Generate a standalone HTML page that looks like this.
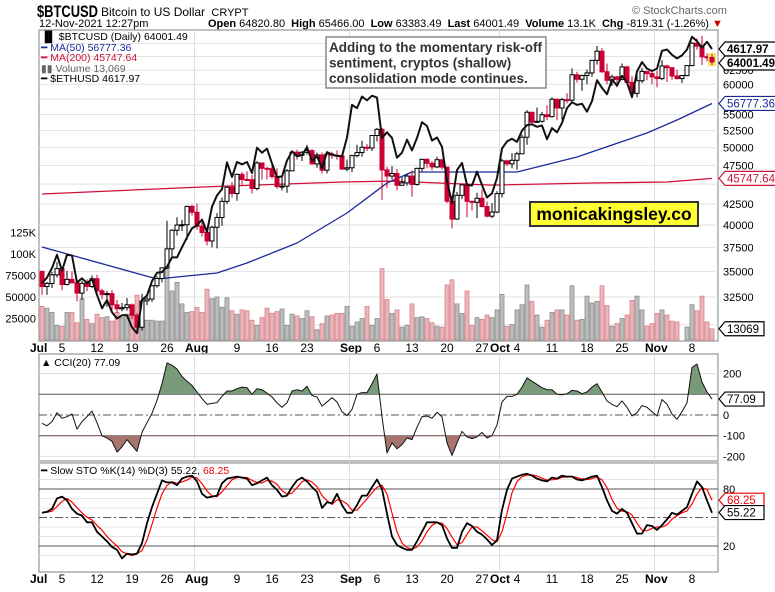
<!DOCTYPE html>
<html><head><meta charset="utf-8">
<style>
html,body{margin:0;padding:0;background:#fff;}
body{width:775px;height:587px;overflow:hidden;font-family:"Liberation Sans",sans-serif;}
svg text{font-family:"Liberation Sans",sans-serif;}
</style></head>
<body>
<svg id="chart" width="775" height="587" viewBox="0 0 775 587" xmlns="http://www.w3.org/2000/svg">
  <defs>
    <clipPath id="cMain"><rect x="39" y="30" width="680" height="311"/></clipPath>
    <clipPath id="cAbove"><rect x="39" y="354" width="680" height="40"/></clipPath>
    <clipPath id="cBelow"><rect x="39" y="435" width="680" height="30"/></clipPath>
  </defs>
  <g>
    <text x="37" y="17" font-size="17" font-weight="bold" textLength="61" lengthAdjust="spacingAndGlyphs">$BTCUSD</text>
    <text x="101" y="16" font-size="12">Bitcoin to US Dollar <tspan font-size="11" dx="3">CRYPT</tspan></text>
    <text x="632" y="14" font-size="11" fill="#666">© StockCharts.com</text>
    <text x="39" y="27" font-size="11">12-Nov-2021 12:27pm</text>
    <text x="208" y="27" font-size="11"><tspan font-weight="bold">Open</tspan> 64820.80 <tspan font-weight="bold" dx="3">High</tspan> 65466.00 <tspan font-weight="bold" dx="3">Low</tspan> 63383.49 <tspan font-weight="bold" dx="3">Last</tspan> 64001.49 <tspan font-weight="bold" dx="3">Volume</tspan> 13.1K <tspan font-weight="bold" dx="3">Chg</tspan> -819.31 (-1.26%) <tspan fill="#c00">▼</tspan></text>
  </g>
  <g id="main"></g>
  <g id="cci"></g>
  <g id="sto"></g>
</svg>
<script>
// ---------- DATA ----------
const startOpen = 35000;
const btcClose = [33500,33800,34650,35280,33700,34200,33860,32870,33810,33510,34260,33090,32730,32820,31780,31420,31520,31780,30840,29790,32140,32310,33580,34290,35350,37340,39400,40000,40030,42200,41500,
39860,39150,38200,39740,40870,42820,44600,43800,46280,45600,45580,44430,47830,47100,47050,45990,44690,44740,46760,49340,48900,49320,49550,47700,48950,46840,49070,48900,48810,46990,47170,
48850,49290,50040,49940,51770,52700,46880,46060,46400,44850,45160,46060,44960,47090,48330,47780,47290,48280,47260,42840,40690,43570,44900,42820,42700,43200,42180,41030,41520,43790,
48120,47710,48200,49110,51510,55360,53800,53930,54960,54660,57470,56040,57400,57320,61670,60880,61530,62000,64280,66000,62210,60690,61290,60850,63080,60330,58450,60620,62270,61880,61300,
61000,63250,62940,61450,61000,61530,63320,67550,66970,64950,64820,64001];
const btcHigh = [35000,33950,34950,35950,35300,35050,35000,33900,34050,34200,34600,34650,33300,33100,33150,32250,31950,32400,31900,31050,32800,32600,33650,34500,35400,40500,39500,40900,40600,42300,42400,
42550,40400,39700,39900,41400,43300,44700,45300,46400,46600,46700,46200,48100,47900,47300,48000,47100,45900,47000,49350,49700,49500,50400,49800,49300,49300,49100,49400,49600,48900,48300,
49000,50400,51000,50500,51800,52900,52900,47300,47400,47000,45900,46400,46800,47200,48400,48500,48100,48700,48300,47300,43500,44000,44900,45000,42900,43900,44300,42800,42600,44100,
48400,48300,49200,49400,51900,55700,55300,56100,55400,56500,57800,57600,57700,58500,62800,62200,61700,62600,64400,67000,66600,63700,61700,61500,63700,63300,61400,62400,62900,62300,62400,
62400,64300,63500,63100,62600,61600,63300,67800,68500,69000,65600,65466];
const btcLow = [32700,32700,33350,34400,33150,33600,33800,32100,32250,33050,33350,32750,32300,31600,31200,31050,31200,31250,30500,29300,29500,31750,32050,33400,33900,35250,36400,38800,39300,38300,41100,
39450,38700,37700,37500,37400,39900,42500,43300,42900,44900,45400,43800,44200,45600,45600,45700,44400,44200,43900,46700,48300,48100,49000,47600,47200,46400,46400,48400,48300,46900,46700,
46600,48600,48700,49500,49500,50900,43000,44500,45600,44200,44800,44800,43400,44800,46700,47100,46800,47100,46900,42600,39600,40600,43100,40900,41700,40800,42100,40900,40800,41400,
43300,47400,47100,46900,49100,50400,53600,53700,53700,54100,54500,54100,54200,56800,56900,60300,58900,60000,61300,63500,62000,60000,59700,59500,60700,60100,58100,57800,60200,60700,60000,
59500,60700,60400,60800,60800,60200,61400,63200,66300,63400,64100,63383];
const ethClose = [2110,2150,2220,2320,2200,2320,2315,2115,2145,2110,2140,2030,1940,1995,1915,1875,1895,1895,1820,1785,1995,2025,2125,2185,2190,2230,2300,2300,2380,2460,2535,
2560,2610,2505,2725,2830,2890,3160,3010,3165,3140,3165,3050,3320,3265,3310,3150,3010,3015,3180,3280,3225,3240,3325,3175,3225,3100,3270,3245,3230,3225,3435,
3830,3790,3940,3890,3950,3925,3430,3495,3430,3210,3265,3410,3290,3430,3615,3570,3400,3435,3330,2970,2760,3080,3155,2930,2925,3065,2930,2810,2850,3000,
3310,3390,3420,3385,3515,3580,3590,3560,3575,3415,3545,3495,3605,3790,3865,3830,3845,3745,3880,4160,4055,3970,4170,4085,4220,4130,3930,4285,4420,4325,4290,
4325,4590,4610,4530,4475,4520,4610,4810,4740,4640,4730,4618];
const volumeK = [39,37,32,17,16,32,32,20,48,24,19,30,26,27,22,32,26,30,39,52,24,23,23,22,22,83,57,67,42,32,33,
38,32,59,48,50,38,49,34,30,35,34,23,17,26,37,31,33,36,17,30,28,25,34,27,12,19,28,29,31,31,39,
16,21,25,39,17,25,83,47,31,35,15,17,42,26,27,25,20,16,15,64,70,42,31,57,17,26,24,29,26,35,
53,16,18,35,41,64,45,29,15,23,32,35,35,29,63,23,24,51,43,45,63,40,16,19,25,29,46,51,35,16,19,
31,35,29,22,21,0,15,41,34,51,21,13];
const ma50Days = [0,23,35,41,51,61,69,74,87,95,107,121,127,134];
const ma50Vals = [37540,34240,34830,35850,37980,41410,45150,46600,46600,46600,48660,52150,54130,56777];
const ma200Days = [0,32,60,70,90,110,125,134];
const ma200Vals = [43740,44630,45280,45400,44880,45150,45280,45748];
const cciVals = [-40,-52,-32,11,-16,-8,5,-68,-32,-8,19,-37,-100,-111,-127,-179,-154,-119,-148,-176,-84,-37,8,71,151,251,240,222,186,163,143,
111,79,52,56,60,90,116,116,127,135,132,100,127,122,106,87,59,37,59,116,122,116,138,94,87,43,63,84,63,16,-3,
27,100,108,108,151,198,-8,-183,-135,-163,-143,-111,-119,-59,-8,-5,-16,13,-8,-135,-195,-135,-79,-106,-114,-106,-84,-111,-100,-48,
63,90,90,100,135,179,163,148,132,122,122,100,98,103,119,116,103,111,135,151,111,68,51,40,68,37,-5,11,46,37,16,
-5,75,52,5,-21,16,59,230,246,159,111,77];
const stoK = [55,56,59,70,72,68,59,54,52,45,45,35,30,25,19,16,7,12,11,12,23,44,61,75,89,87,87,84,91,93,94,
88,75,71,72,73,86,91,92,93,92,91,84,86,89,92,84,79,72,73,82,89,92,88,82,77,60,66,65,75,63,55,
55,63,73,73,82,90,80,54,30,21,18,16,16,25,35,45,45,45,42,28,18,18,35,44,41,35,32,27,21,26,
58,79,91,93,95,96,94,91,89,88,92,91,94,93,93,90,89,91,93,94,82,68,57,54,59,55,44,33,33,42,41,
37,42,48,55,53,57,61,75,88,82,68,55];
const priceTicks = [62500,60000,55000,52500,50000,47500,42500,40000,37500,35000,32500];
const priceGrid = [67500,65000,62500,60000,57500,55000,52500,50000,47500,45000,42500,40000,37500,35000,32500,30000];
const volTicks = [25000,50000,75000,100000,125000];
const volTickLabels = ["25000","50000","75000","100K","125K"];
const dateLabels = [["Jul",0,true],["5",4,false],["12",11,false],["19",18,false],["26",25,false],["Aug",31,true],["9",39,false],["16",46,false],["23",53,false],["Sep",62,true],["6",67,false],["13",74,false],["20",81,false],["27",88,false],["Oct",92,true],["4",95,false],["11",102,false],["18",109,false],["25",116,false],["Nov",123,true],["8",130,false]];
const monthStarts = [31,62,92,123];
const cciTicks = [200,0,-100,-200];
const stoTicks = [80,20];

// ---------- SCALES ----------
const NS = "http://www.w3.org/2000/svg";
const L = 39, R = 718;
const xD = d => 42 + 5 * d;
const yP = p => 225 - 347 * Math.log(p / 40000);
const yE = p => 49 - 299 * Math.log(p / 4618);
const yV = v => 340 - v / 25000 * 21.5;
const yC = v => 415 - v * 0.207;
const yS = v => 546 + (20 - v) * 0.95;

function mk(parent, tag, attrs, text) {
  const e = document.createElementNS(NS, tag);
  for (const k in attrs) e.setAttribute(k, attrs[k]);
  if (text !== undefined) e.textContent = text;
  parent.appendChild(e);
  return e;
}
const main = document.getElementById('main');
const cci = document.getElementById('cci');
const sto = document.getElementById('sto');

function frame(g, y0, y1, name) {
  const r = mk(g, 'rect', {x: L, y: y0, width: R - L, height: y1 - y0, fill: '#fff', stroke: '#aaa', 'stroke-width': 1.5});
  
  
  monthStarts.forEach(d => {
    const ln = mk(g, 'line', {x1: xD(d) - 2.5, x2: xD(d) - 2.5, y1: y0, y2: y1, stroke: '#ddd', 'stroke-width': 1});
    
    
  });
}
frame(main, 30, 341, 'price-panel-frame');
frame(cci, 354, 461, 'cci-panel-frame');
frame(sto, 463, 572, 'sto-panel-frame');

priceGrid.forEach(p => {
  const y = yP(p);
  if (y < 31 || y > 340) return;
  const ln = mk(main, 'line', {x1: L, x2: R, y1: y, y2: y, stroke: '#e2e2e2'});
  
  
});
priceTicks.forEach(p => {
  const t = mk(main, 'text', {x: 723, y: yP(p) + 4, 'font-size': 11}, String(p));
  
  
});
volTicks.forEach((v, i) => {
  const t = mk(main, 'text', {x: 36, y: yV(v) + 4, 'font-size': 11, 'text-anchor': 'end'}, volTickLabels[i]);
  
  
});

const clipG = mk(main, 'g', {'clip-path': 'url(#cMain)'});
volumeK.forEach((v, d) => {
  if (!v) return;
  const o = d === 0 ? startOpen : btcClose[d - 1];
  const down = btcClose[d] < o;
  const y = yV(v * 1000);
  const b = mk(clipG, 'rect', {x: xD(d) - 2, y: y, width: 4, height: 340 - y, fill: down ? '#e9b7bb' : '#bdbdbd', stroke: down ? '#d98088' : '#8c8c8c', 'stroke-width': 0.8});
  
  
});
function poly(g, days, vals, yf, color, w, name) {
  const pts = days.map((d, i) => xD(d) + ',' + yf(vals[i]).toFixed(1)).join(' ');
  const p = mk(g, 'polyline', {points: pts, fill: 'none', stroke: color, 'stroke-width': w, 'stroke-linejoin': 'round'});
  
  
  return p;
}
poly(clipG, ma200Days, ma200Vals, yP, '#d0103a', 1.3, 'ma200-line');
poly(clipG, ma50Days, ma50Vals, yP, '#1a2a9a', 1.3, 'ma50-line');
btcClose.forEach((c, d) => {
  const o = d === 0 ? startOpen : btcClose[d - 1];
  const up = c >= o;
  const col = up ? '#000' : '#cc0033';
  const x = xD(d);
  if (d === btcClose.length - 1) {
    const hl = mk(clipG, 'rect', {x: x - 4, y: yP(btcHigh[d]) - 1, width: 8, height: yP(btcLow[d]) - yP(btcHigh[d]) + 2, fill: '#f5e66a'});
    
    
  }
  const wk = mk(clipG, 'line', {x1: x, x2: x, y1: yP(btcHigh[d]), y2: yP(btcLow[d]), stroke: col, 'stroke-width': 1});
  
  
  const yt = yP(Math.max(o, c)), yb = yP(Math.min(o, c));
  const bd = mk(clipG, 'rect', {x: x - 2, y: yt, width: 4, height: Math.max(1, yb - yt), fill: up ? '#fff' : '#cc0033', stroke: col, 'stroke-width': 1});
  
  
});
poly(clipG, ethClose.map((v, i) => i), ethClose, yE, '#111', 2, 'eth-overlay-line');

const lg = [["▐▌ $BTCUSD (Daily) 64001.49", '#000', 40], ["━ MA(50) 56777.36", '#1a2a9a', 51], ["━ MA(200) 45747.64", '#d0103a', 61], ["▮▮ Volume 13,069", '#666', 72], ["━ $ETHUSD 4617.97", '#000', 82]];
lg.forEach(r => {
  const t = mk(main, 'text', {x: 41, y: r[2], 'font-size': 10.5, fill: r[1]}, r[0]);
  
  
});

function tag(g, x, y, txt, color, name, bg) {
  const w = txt.length * 6.6 + 6;
  const p = mk(g, 'polygon', {points: `${x},${y} ${x + 6},${y - 7} ${x + 6 + w},${y - 7} ${x + 6 + w},${y + 7} ${x + 6},${y + 7}`, fill: bg || '#fff', stroke: color, 'stroke-width': 1.2});
  
  
  const t = mk(g, 'text', {x: x + 8, y: y + 4, 'font-size': 11.5, fill: color, 'font-weight': name.startsWith('last') || name.startsWith('eth') ? 'bold' : 'normal'}, txt);
  
  
}
tag(main, 719, yE(4617.97), '4617.97', '#000', 'eth-last-tag');
tag(main, 719, 63, '64001.49', '#000', 'last-price-tag');
tag(main, 719, yP(56777.36), '56777.36', '#1a2a9a', 'ma50-tag');
tag(main, 719, yP(45747.64), '45747.64', '#d0103a', 'ma200-tag');
tag(main, 719, yV(13069), '13069', '#000', 'volume-tag');

const ab = mk(main, 'g', {});


mk(ab, 'rect', {x: 326, y: 37, width: 220, height: 51, fill: '#fff', stroke: '#888', 'stroke-width': 1.5});
['Adding to the momentary risk-off', 'sentiment, cryptos (shallow)', 'consolidation mode continues.'].forEach((s, i) => {
  const t = mk(ab, 'text', {x: 329, y: 52 + i * 15.5, 'font-size': 13.5, 'font-weight': 'bold', fill: '#333'}, s);
  
  
});
const wb = mk(main, 'g', {});


mk(wb, 'rect', {x: 530, y: 202, width: 168, height: 24, fill: '#ffff33', stroke: '#333', 'stroke-width': 2});
const wt = mk(wb, 'text', {x: 614, y: 220, 'font-size': 17.5, 'font-weight': 'bold', 'text-anchor': 'middle'}, 'monicakingsley.co');



function dates(g, y) {
  dateLabels.forEach(r => {
    const t = mk(g, 'text', {x: r[2] ? xD(r[1]) - 12 : xD(r[1]), y: y, 'font-size': 12, 'font-weight': r[2] ? 'bold' : 'normal', 'text-anchor': r[2] ? 'start' : 'middle'}, r[0]);
    
    
  });
}
dates(main, 352);
dates(sto, 583);

// ---------- CCI ----------
[200, -200].forEach(v => { const l = mk(cci, 'line', {x1: L, x2: R, y1: yC(v), y2: yC(v), stroke: '#ddd'});   });
[100, -100].forEach(v => { const l = mk(cci, 'line', {x1: L, x2: R, y1: yC(v), y2: yC(v), stroke: '#555', 'stroke-width': 1});   });
const z = mk(cci, 'line', {x1: L, x2: R, y1: yC(0), y2: yC(0), stroke: '#555', 'stroke-dasharray': '8,3,2,3'});


const cpts = cciVals.map((v, i) => xD(i) + ',' + yC(v).toFixed(1));
const fa = mk(cci, 'polygon', {points: xD(0) + ',' + yC(100) + ' ' + cpts.join(' ') + ' ' + xD(cciVals.length - 1) + ',' + yC(100), fill: '#789a78', 'clip-path': 'url(#cAbove)'});


const fb = mk(cci, 'polygon', {points: xD(0) + ',' + yC(-100) + ' ' + cpts.join(' ') + ' ' + xD(cciVals.length - 1) + ',' + yC(-100), fill: '#a87470', 'clip-path': 'url(#cBelow)'});


poly(cci, cciVals.map((v, i) => i), cciVals, yC, '#111', 1, 'cci-line');
cciTicks.forEach(v => { const t = mk(cci, 'text', {x: 723, y: yC(v) + 4, 'font-size': 11}, String(v));   });
tag(cci, 719, yC(77.09), '77.09', '#000', 'cci-value-tag');
const cl = mk(cci, 'text', {x: 41, y: 366, 'font-size': 10.5}, '▲ CCI(20) 77.09');



// ---------- STO ----------
[10, 30, 40, 60, 70, 90].forEach(v => { const l = mk(sto, 'line', {x1: L, x2: R, y1: yS(v), y2: yS(v), stroke: '#e4e4e4'});   });
[80, 20].forEach(v => { const l = mk(sto, 'line', {x1: L, x2: R, y1: yS(v), y2: yS(v), stroke: '#555'});   });
const m50 = mk(sto, 'line', {x1: L, x2: R, y1: yS(50), y2: yS(50), stroke: '#555', 'stroke-dasharray': '8,3,2,3'});


const stoD = stoK.map((v, i) => { const a = stoK.slice(Math.max(0, i - 2), i + 1); return a.reduce((s, x) => s + x, 0) / a.length; });
poly(sto, stoD.map((v, i) => i), stoD, yS, '#f00', 1.2, 'sto-d-line');
poly(sto, stoK.map((v, i) => i), stoK, yS, '#000', 1.8, 'sto-k-line');
stoTicks.forEach(v => { const t = mk(sto, 'text', {x: 723, y: yS(v) + 4, 'font-size': 11}, String(v));   });
tag(sto, 719, yS(68.25), '68.25', '#e00', 'sto-d-tag');
tag(sto, 719, yS(55.22), '55.22', '#000', 'sto-k-tag');
const sl = mk(sto, 'text', {x: 41, y: 474, 'font-size': 10.5}, '━ Slow STO %K(14) %D(3) 55.22, ');


const ts = mk(sl, 'tspan', {fill: '#e00'}, '68.25');


</script>
</body></html>
